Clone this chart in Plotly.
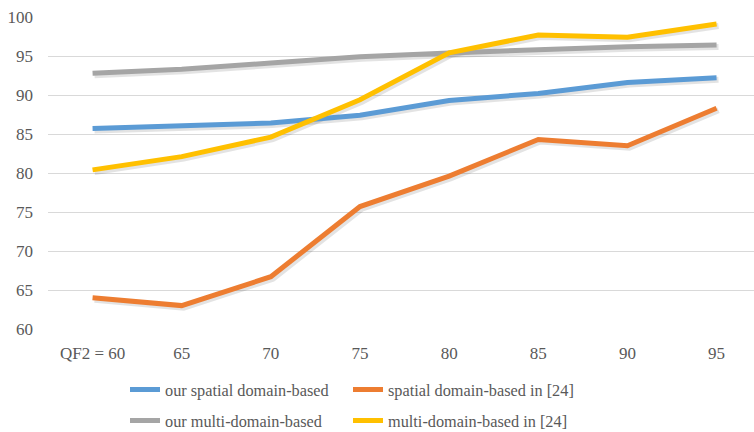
import plotly.graph_objects as go

categories = ["QF2 = 60", "65", "70", "75", "80", "85", "90", "95"]
our_spatial = [85.7, 86.0, 86.4, 87.4, 89.3, 90.2, 91.6, 92.2]
spatial_24 = [64.0, 63.0, 66.7, 75.7, 79.6, 84.3, 83.5, 88.3]
our_multi = [92.8, 93.3, 94.1, 94.9, 95.4, 95.8, 96.2, 96.4]
multi_24 = [80.4, 82.1, 84.6, 89.4, 95.4, 97.7, 97.4, 99.1]

series = [
    ("our spatial domain-based", our_spatial, "#5B9BD5", "legend"),
    ("spatial domain-based in [24]", spatial_24, "#ED7D31", "legend2"),
    ("our multi-domain-based", our_multi, "#A5A5A5", "legend3"),
    ("multi-domain-based in [24]", multi_24, "#FFC000", "legend4"),
]

xr = [-0.5, 7.42]
yr = [60, 100]
dx = 0.022
dy = 0.26

fig = go.Figure()
# invisible carrier trace so the base axes (grid + tick labels) are drawn
fig.add_trace(go.Scatter(x=categories, y=our_spatial, mode="lines", showlegend=False,
                         hoverinfo="skip", line=dict(color="rgba(0,0,0,0)", width=1)))
# soft drop shadows
for name, vals, col, lg in series:
    fig.add_trace(go.Scatter(x=categories, y=vals, mode="lines", showlegend=False,
                             hoverinfo="skip",
                             line=dict(color="rgba(0,0,0,0.11)", width=6),
                             xaxis="x2", yaxis="y2"))
for name, vals, col, lg in series:
    fig.add_trace(go.Scatter(x=categories, y=vals, mode="lines", name=name,
                             line=dict(color=col, width=5), legend=lg,
                             xaxis="x3", yaxis="y3"))

font = "Liberation Serif, Times New Roman, serif"
legend_common = dict(orientation="h", xanchor="left", yanchor="middle",
                     xref="container", yref="container",
                     font=dict(size=16.3, color="#595959"),
                     bgcolor="rgba(0,0,0,0)", itemwidth=30)
col1, col2 = 125 / 754, 348 / 754
row1, row2 = 1 - 390 / 432, 1 - 421 / 432
fig.update_layout(
    width=754, height=432,
    margin=dict(l=48, r=0, t=17, b=103, autoexpand=False),
    paper_bgcolor="white", plot_bgcolor="white",
    font=dict(family=font, size=17, color="#595959"),
    xaxis=dict(type="category", categoryarray=categories, range=xr, showgrid=False,
               zeroline=False, showline=False, ticks="", ticklabelstandoff=12,
               automargin=False, tickfont=dict(size=17, color="#595959")),
    yaxis=dict(range=yr, dtick=5, showgrid=True, gridcolor="#D9D9D9", gridwidth=1,
               zeroline=False, showline=False, ticks="", ticklabelstandoff=14,
               automargin=False, tickfont=dict(size=17, color="#595959")),
    xaxis2=dict(type="category", categoryarray=categories, overlaying="x",
                range=[xr[0] - dx, xr[1] - dx], visible=False),
    yaxis2=dict(overlaying="y", range=[yr[0] + dy, yr[1] + dy], visible=False),
    xaxis3=dict(type="category", categoryarray=categories, overlaying="x",
                range=xr, visible=False),
    yaxis3=dict(overlaying="y", range=yr, visible=False),
    legend=dict(x=col1, y=row1, **legend_common),
    legend2=dict(x=col2, y=row1, **legend_common),
    legend3=dict(x=col1, y=row2, **legend_common),
    legend4=dict(x=col2, y=row2, **legend_common),
    showlegend=True,
)

fig.write_html("out.html",
               config={"displayModeBar": False},
               post_script="document.body.style.margin='0px';"
                           "document.body.style.overflow='hidden';")
